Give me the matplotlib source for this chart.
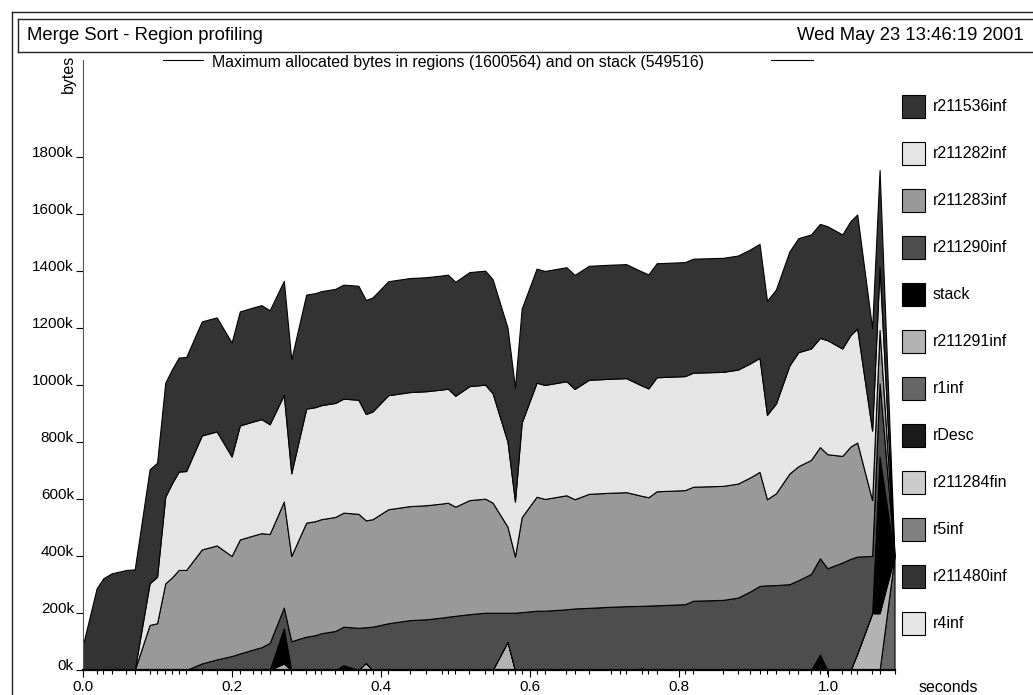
import matplotlib
matplotlib.use("Agg")
import matplotlib.pyplot as plt
from matplotlib.patches import Rectangle
from matplotlib.lines import Line2D

plt.rcParams["font.family"] = ["Liberation Sans", "DejaVu Sans"]

title = "Merge Sort - Region profiling"
stamp = "Wed May 23 13:46:19 2001"
header = "Maximum allocated bytes in regions (1600564) and on stack (549516)"

# sample times in seconds
seconds = [0.000, 0.019, 0.028, 0.039, 0.059, 0.070, 0.090, 0.100, 0.111, 0.120,
           0.129, 0.139, 0.160, 0.180, 0.200, 0.211, 0.229, 0.240, 0.251, 0.270,
           0.280, 0.300, 0.312, 0.320, 0.339, 0.350, 0.370, 0.380, 0.389, 0.410,
           0.439, 0.461, 0.482, 0.490, 0.500, 0.519, 0.540, 0.550, 0.570, 0.580,
           0.589, 0.609, 0.620, 0.649, 0.660, 0.679, 0.709, 0.721, 0.729, 0.750,
           0.759, 0.770, 0.808, 0.819, 0.859, 0.879, 0.895, 0.908, 0.918, 0.930,
           0.948, 0.960, 0.977, 0.989, 0.999, 1.019, 1.030, 1.039, 1.059, 1.069,
           1.089]

# kilobytes held by each region at each sample (bottom of the stack first)
r1inf = [0, 0, 0, 0, 0, 0, 0, 0, 0, 0,
         0, 0, 0, 0, 0, 0, 0, 0, 0, 0,
         0, 0, 0, 0, 0, 0, 0, 0, 0, 0,
         0, 0, 0, 0, 0, 0, 0, 0, 0, 0,
         0, 0, 0, 0, 0, 0, 0, 0, 0, 0,
         0, 0, 0, 0, 0, 0, 0, 0, 0, 0,
         0, 0, 0, 0, 0, 0, 0, 0, 0, 0,
         398]
r211291inf = [0, 0, 0, 0, 0, 0, 0, 0, 0, 0,
              0, 0, 0, 0, 0, 0, 0, 0, 0, 23,
              0, 0, 0, 0, 0, 0, 0, 25, 0, 0,
              0, 0, 0, 0, 0, 0, 0, 0, 99, 0,
              0, 0, 0, 0, 0, 0, 0, 0, 0, 5,
              0, 0, 0, 0, 0, 0, 0, 0, 0, 0,
              0, 0, 0, 5, 0, 0, 0, 58, 199, 199,
              0]
stack = [0, 0, 0, 0, 0, 0, 0, 0, 0, 0,
         0, 0, 0, 0, 0, 0, 0, 0, 0, 123,
         0, 0, 0, 0, 0, 17, 0, 0, 0, 0,
         0, 0, 0, 0, 0, 0, 0, 0, 0, 0,
         0, 0, 0, 0, 0, 0, 0, 0, 0, 0,
         0, 0, 0, 0, 0, 0, 0, 0, 0, 0,
         0, 0, 0, 49, 0, 0, 0, 0, 0, 549,
         0]
r211290inf = [0, 0, 0, 0, 0, 0, 0, 0, 0, 0,
              0, 0, 23, 37, 49, 58, 72, 80, 95, 73,
              101, 117, 122, 129, 137, 135, 148, 125, 152, 164,
              175, 178, 184, 187, 190, 196, 201, 201, 102, 201,
              203, 208, 208, 213, 216, 218, 222, 223, 224, 220,
              226, 227, 231, 243, 246, 254, 275, 295, 297, 298,
              301, 315, 337, 338, 357, 377, 390, 340, 201, 258,
              0]
r211283inf = [0, 0, 0, 0, 0, 0, 158, 164, 304, 325,
              351, 351, 400, 400, 351, 400, 400, 400, 382, 372,
              299, 400, 400, 400, 400, 400, 400, 375, 377, 400,
              400, 400, 400, 400, 383, 400, 400, 386, 302, 197,
              333, 400, 392, 400, 383, 400, 400, 400, 400, 386,
              380, 400, 400, 400, 400, 400, 400, 400, 302, 322,
              388, 400, 400, 390, 400, 374, 394, 400, 196, 187,
              0]
r211282inf = [0, 0, 0, 0, 0, 0, 146, 163, 304, 330,
              345, 347, 400, 400, 349, 400, 400, 400, 385, 374,
              290, 400, 400, 400, 400, 400, 400, 373, 378, 400,
              400, 400, 400, 400, 389, 400, 400, 384, 298, 193,
              332, 400, 400, 400, 387, 400, 400, 400, 400, 387,
              382, 400, 400, 400, 400, 400, 400, 400, 296, 315,
              379, 400, 391, 383, 400, 377, 391, 400, 244, 222,
              0]
r211536inf = [82, 287, 322, 339, 351, 353, 400, 400, 400, 400,
              400, 400, 400, 400, 400, 400, 400, 400, 400, 400,
              400, 400, 400, 400, 400, 400, 400, 400, 400, 400,
              400, 400, 400, 400, 400, 400, 400, 400, 400, 400,
              400, 400, 400, 400, 400, 400, 400, 400, 400, 400,
              400, 400, 400, 400, 400, 400, 400, 400, 400, 400,
              400, 400, 400, 400, 400, 400, 400, 400, 359, 339,
              0]

# legend, top to bottom (rDesc, r211284fin, r5inf, r211480inf, r4inf stay at 0k)
legend_names = ["r211536inf", "r211282inf", "r211283inf", "r211290inf", "stack",
                "r211291inf", "r1inf", "rDesc", "r211284fin", "r5inf",
                "r211480inf", "r4inf"]
legend_colors = ["#333333", "#e5e5e5", "#999999", "#4d4d4d", "#000000",
                 "#b3b3b3", "#666666", "#1a1a1a", "#cccccc", "#808080",
                 "#333333", "#e5e5e5"]

layers = [r1inf, r211291inf, stack, r211290inf, r211283inf, r211282inf, r211536inf]
layer_colors = ["#666666", "#b3b3b3", "#000000", "#4d4d4d", "#999999", "#e5e5e5", "#333333"]

W, H = 1033, 695
fig = plt.figure(figsize=(W / 100, H / 100), dpi=100)
ax = fig.add_axes([82.5 / W, 25 / H, 812 / W, 610 / H])

ax.stackplot(seconds, layers, colors=layer_colors, edgecolor="black", linewidth=0.8)
ax.set_xlim(0, seconds[-1])
ax.set_ylim(0, 2140)

for side in ["top", "right"]:
    ax.spines[side].set_visible(False)
ax.spines["left"].set_color("#555555")
ax.spines["bottom"].set_linewidth(1.6)

ax.set_xticks([0.0, 0.2, 0.4, 0.6, 0.8, 1.0])
ax.set_xticklabels(["0.0", "0.2", "0.4", "0.6", "0.8", "1.0"])
ax.set_xticks(seconds, minor=True)
ax.tick_params(axis="x", which="major", length=5, width=0.8, pad=2.5, labelsize=11)
ax.tick_params(axis="x", which="minor", length=3.2, width=0.8)

yt = list(range(0, 1801, 200))
ax.set_yticks(yt)
ax.set_yticklabels([f"{v}k" for v in yt], va="baseline")
ax.tick_params(axis="y", length=4.7, width=0.8, pad=1.5, labelsize=11)


def fx(px):
    return px / W


def fy(py):
    return 1 - py / H


# page frame and title box
for xs, ys in [([12, 12], [12, H + 5]), ([12, W + 5], [12, 12]),
               ([18, 18], [19, 52]), ([18, W + 5], [19, 19]), ([18, W + 5], [52, 52])]:
    fig.add_artist(Line2D([fx(x) for x in xs], [fy(y) for y in ys],
                          transform=fig.transFigure, color="#222222", lw=1))

fig.text(fx(27), fy(36), title, fontsize=13.3, ha="left", va="center")
fig.text(fx(1024), fy(36), stamp, fontsize=13.3, ha="right", va="center")

fig.text(fx(212), fy(62), header, fontsize=11.4, ha="left", va="center")
for xs in [[163, 203], [771, 813]]:
    fig.add_artist(Line2D([fx(x) for x in xs], [fy(60), fy(60)],
                          transform=fig.transFigure, color="black", lw=0.8))

fig.text(fx(68.5), fy(74), "bytes", fontsize=11.5, rotation=90, ha="center", va="center")
fig.text(fx(948), fy(688), "seconds", fontsize=11.5, ha="center", va="center")

for i, (name, color) in enumerate(zip(legend_names, legend_colors)):
    yc = 106.7 + 47 * i
    fig.add_artist(Rectangle((fx(902), fy(yc + 11.5)), 23 / W, 23 / H,
                             transform=fig.transFigure, facecolor=color,
                             edgecolor="black", lw=0.8))
    fig.text(fx(933), fy(yc), name, fontsize=11.5, ha="left", va="center")

fig.savefig("out.png", dpi=100)
